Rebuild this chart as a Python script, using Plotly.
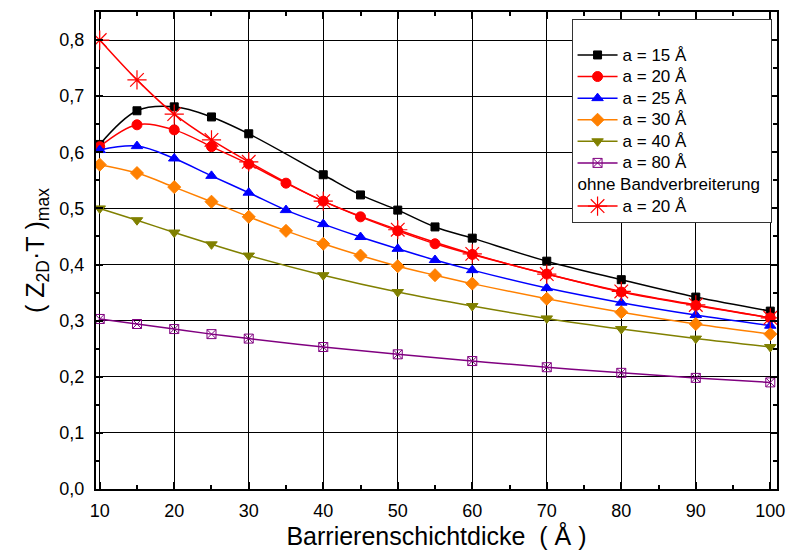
import plotly.graph_objects as go

# Barrier thickness (Å) and maximum figure of merit (Z_2D·T)_max for each well width a
x_a15 = [10, 15, 20, 25, 30, 40, 45, 50, 55, 60, 70, 80, 90, 100]
y_a15 = [0.614, 0.674, 0.681, 0.663, 0.633, 0.560, 0.524, 0.497, 0.467, 0.447, 0.406, 0.373, 0.342, 0.317]

x_a20 = [10, 15, 20, 25, 30, 35, 40, 45, 50, 55, 60, 70, 80, 90, 100]
y_a20 = [0.610, 0.649, 0.640, 0.610, 0.579, 0.545, 0.513, 0.485, 0.460, 0.437, 0.418, 0.383, 0.351, 0.327, 0.305]

x_a25 = [10, 15, 20, 25, 30, 35, 40, 45, 50, 55, 60, 70, 80, 90, 100]
y_a25 = [0.604, 0.611, 0.589, 0.558, 0.528, 0.497, 0.472, 0.449, 0.428, 0.408, 0.390, 0.358, 0.332, 0.310, 0.291]

x_a30 = [10, 15, 20, 25, 30, 35, 40, 45, 50, 55, 60, 70, 80, 90, 100]
y_a30 = [0.578, 0.563, 0.538, 0.512, 0.485, 0.460, 0.437, 0.416, 0.397, 0.381, 0.366, 0.339, 0.315, 0.294, 0.276]

x_a40 = [10, 15, 20, 25, 30, 40, 50, 60, 70, 80, 90, 100]
y_a40 = [0.500, 0.479, 0.457, 0.436, 0.416, 0.381, 0.351, 0.326, 0.304, 0.285, 0.268, 0.253]

x_a80 = [10, 15, 20, 25, 30, 40, 50, 60, 70, 80, 90, 100]
y_a80 = [0.303, 0.294, 0.285, 0.276, 0.268, 0.253, 0.240, 0.228, 0.217, 0.207, 0.198, 0.190]

# Without band broadening, a = 20 Å
x_nb20 = [10, 15, 20, 25, 30, 40, 50, 60, 70, 80, 90, 100]
y_nb20 = [0.800, 0.729, 0.668, 0.622, 0.583, 0.513, 0.462, 0.419, 0.383, 0.352, 0.328, 0.305]

x_ticks = [10, 20, 30, 40, 50, 60, 70, 80, 90, 100]
y_ticks = [0.0, 0.1, 0.2, 0.3, 0.4, 0.5, 0.6, 0.7, 0.8]

FONT = "Liberation Sans, Arial, sans-serif"
LEG_SPACING_FONT = 14.3   # sets the row pitch of the legend
LEG_TEXT_SIZE = 17        # actual size of the legend text


def leg(text):
    return f'<span style="font-size:{LEG_TEXT_SIZE}px">{text}</span>'


series = [
    ("a = 15 Å", x_a15, y_a15, "#000000", "square", 8),
    ("a = 20 Å", x_a20, y_a20, "#ff0000", "circle", 10),
    ("a = 25 Å", x_a25, y_a25, "#0000ff", "triangle-up", 10),
    ("a = 30 Å", x_a30, y_a30, "#ff8000", "diamond", 10),
    ("a = 40 Å", x_a40, y_a40, "#808000", "triangle-down", 10),
    ("a = 80 Å", x_a80, y_a80, "#800080", "square-x-open", 9),
]

fig = go.Figure()
for i, (name, xs, ys, col, sym, size) in enumerate(series):
    fig.add_trace(go.Scatter(
        x=xs, y=ys, name=leg(name), mode="lines+markers",
        line=dict(color=col, width=1.5, shape="spline"),
        marker=dict(color=col, symbol=sym, size=size,
                    line=dict(color=col, width=1)),
        legendgroup="mit",
        # empty heading leaves a little headroom above the first entry
        legendgrouptitle=dict(text=" ", font=dict(size=4)) if i == 0 else None,
    ))

fig.add_trace(go.Scatter(
    x=x_nb20, y=y_nb20, name=leg("a = 20 Å"), mode="lines+markers",
    line=dict(color="#ff0000", width=1.5, shape="spline"),
    marker=dict(color="#ff0000", symbol="asterisk-open", size=16,
                line=dict(color="#ff0000", width=1.2)),
    legendgroup="ohne",
    legendgrouptitle=dict(text=leg("ohne Bandverbreiterung"),
                          font=dict(size=LEG_SPACING_FONT, family=FONT, color="black")),
))

axis_common = dict(
    showline=True, linecolor="black", linewidth=2, mirror="ticks",
    ticks="inside", ticklen=7, tickwidth=1.5, tickcolor="black",
    showgrid=True, gridcolor="#000000", gridwidth=1,
    zeroline=False, automargin=False,
    tickfont=dict(family=FONT, size=18, color="black"),
)

fig.update_xaxes(
    **axis_common,
    range=[9.5, 100.9],
    tickvals=x_ticks,
    minor=dict(dtick=5, tick0=0, ticks="inside", ticklen=4, tickcolor="black", showgrid=False),
    title=dict(text="Barrierenschichtdicke\u00a0\u00a0(\u00a0Å\u00a0)",
               font=dict(family=FONT, size=25, color="black"), standoff=5),
    ticklabelstandoff=4,
)
fig.update_yaxes(
    **axis_common,
    range=[0, 0.85],
    tickvals=y_ticks,
    tickformat=".1f",
    minor=dict(dtick=0.05, tick0=0, ticks="inside", ticklen=4, tickcolor="black", showgrid=False),
    title=dict(text="(\u00a0Z<sub>2D</sub>·T\u00a0)<sub>max</sub>",
               font=dict(family=FONT, size=25, color="black"), standoff=8),
    ticklabelstandoff=6,
)

fig.update_layout(
    width=787, height=550,
    margin=dict(l=96, r=10, t=12, b=61),
    paper_bgcolor="white", plot_bgcolor="white",
    separators=",.",
    font=dict(family=FONT, color="black"),
    legend=dict(
        x=0.992, y=0.985, xanchor="right", yanchor="top",
        bgcolor="white", bordercolor="#333333", borderwidth=1,
        font=dict(family=FONT, size=LEG_SPACING_FONT, color="black"),
        tracegroupgap=0, itemwidth=40,
        groupclick="toggleitem",
    ),
)

fig.write_html("out.html")
